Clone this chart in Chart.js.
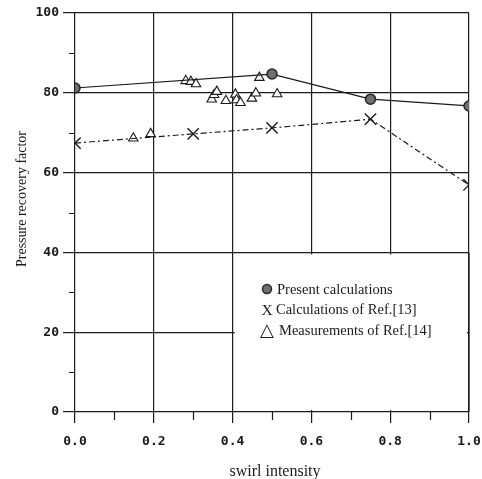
<!DOCTYPE html>
<html>
<head>
<meta charset="utf-8">
<script src="https://cdn.jsdelivr.net/npm/chart.js@4.4.1/dist/chart.umd.min.js"></script>
<style>
  html, body { margin: 0; padding: 0; background: #fff; }
  #wrap { width: 482px; height: 479px; }
</style>
</head>
<body>
<div id="wrap"><canvas id="recovery"></canvas></div>
<script>
// present calculations (filled circles, solid line)
var swirlPresent = [0.0, 0.5, 0.75, 1.0];
var recoveryPresent = [81.2, 84.7, 78.4, 76.7];

// calculations of Ref.[13] (crosses, dash-dot line)
var swirlRef13 = [0.0, 0.3, 0.5, 0.75, 1.0];
var recoveryRef13 = [67.4, 69.7, 71.2, 73.4, 56.9];

// measurements of Ref.[14] (open triangles)
var swirlRef14 = [0.148, 0.192, 0.281, 0.294, 0.307, 0.347, 0.353, 0.36, 0.383, 0.407, 0.41, 0.42, 0.449, 0.459, 0.468, 0.513];
var recoveryRef14 = [68.6, 69.7, 83.0, 82.8, 82.2, 78.4, 79.5, 80.3, 78.0, 79.6, 78.2, 77.5, 78.6, 79.9, 83.8, 79.7];

var xTicks = [0, 0.2, 0.4, 0.6, 0.8, 1.0];
var yTicks = [0, 20, 40, 60, 80, 100];
var xMinor = [0.1, 0.3, 0.5, 0.7, 0.9];
var yMinor = [10, 30, 50, 70, 90];

var legendLabels = ['Present calculations', 'Calculations of Ref.[13]', 'Measurements of Ref.[14]'];
var legendGlyphs = [null, 'X', '\u25B3'];

function toPoints(xs, ys) {
    var pts = [];
    for (var i = 0; i < xs.length; i++) {
        pts.push({ x: xs[i], y: ys[i] });
    }
    return pts;
}

var serif = '"Liberation Serif", "DejaVu Serif", serif';
var mono = '"DejaVu Sans Mono", "Liberation Mono", monospace';
var ink = '#1a1a1a';

function crisp(px) {
    return Math.round(px) + 0.5;
}

// white box behind the legend, minor ticks, axis titles and the legend itself
var paperPlugin = {
    id: 'paper',
    beforeDatasetsDraw: function (chart) {
        var ctx = chart.ctx,
            xs = chart.scales.x,
            ys = chart.scales.y;

        var l = xs.getPixelForValue(0.4), r = xs.getPixelForValue(1.0);
        var t = ys.getPixelForValue(40), b = ys.getPixelForValue(0);
        ctx.save();
        ctx.fillStyle = '#fff';
        ctx.fillRect(l + 2, t + 2, r - l - 4, b - t - 4);

        ctx.strokeStyle = ink;
        ctx.lineWidth = 1.2;
        ctx.beginPath();
        xMinor.forEach(function (v) {
            var px = crisp(xs.getPixelForValue(v));
            ctx.moveTo(px, b);
            ctx.lineTo(px, b + 8);
        });
        var left = xs.getPixelForValue(0);
        yMinor.forEach(function (v) {
            var py = crisp(ys.getPixelForValue(v));
            ctx.moveTo(left - 6, py);
            ctx.lineTo(left, py);
        });
        ctx.stroke();
        ctx.restore();
    },
    afterDraw: function (chart) {
        var ctx = chart.ctx,
            area = chart.chartArea,
            ys = chart.scales.y;

        // right frame down the side of the legend box
        ctx.save();
        ctx.strokeStyle = ink;
        ctx.lineWidth = 1.2;
        ctx.beginPath();
        ctx.moveTo(area.right, ys.getPixelForValue(40));
        ctx.lineTo(area.right, ys.getPixelForValue(0));
        ctx.stroke();
        ctx.restore();

        ctx.save();
        ctx.fillStyle = ink;
        ctx.textAlign = 'center';
        ctx.textBaseline = 'middle';
        ctx.font = '16px ' + serif;
        ctx.fillText('swirl intensity', (area.left + area.right) / 2 + 3, 472);

        ctx.font = '14px ' + serif;
        ctx.translate(22, 199);
        ctx.rotate(-Math.PI / 2);
        ctx.fillText('Pressure recovery factor', 0, 0);
        ctx.restore();

        // legend
        var lx = 267, ly = 289, gap = 20.5;
        ctx.save();
        ctx.textBaseline = 'middle';
        chart.data.datasets.forEach(function (ds, i) {
            var y = ly + i * gap;
            ctx.font = '14.5px ' + serif;
            if (legendGlyphs[i] === null) {
                ctx.fillStyle = ds.pointBackgroundColor;
                ctx.strokeStyle = ds.pointBorderColor;
                ctx.lineWidth = ds.pointBorderWidth;
                Chart.helpers.drawPoint(ctx, {
                    pointStyle: ds.pointStyle,
                    radius: ds.pointRadius - 0.5,
                    borderWidth: ds.pointBorderWidth
                }, lx, y);
                ctx.fillStyle = ink;
                ctx.textAlign = 'left';
                ctx.fillText(legendLabels[i], lx + 10, y + 1);
            } else {
                ctx.fillStyle = ink;
                ctx.textAlign = 'center';
                ctx.font = (i === 2 ? '18px ' : '15.5px ') + serif;
                ctx.fillText(legendGlyphs[i], lx, y + 1);
                ctx.font = '14.5px ' + serif;
                ctx.textAlign = 'left';
                ctx.fillText(legendLabels[i], lx + (i === 1 ? 9 : 12), y + 1);
            }
        });
        ctx.restore();
    }
};

var ctx = document.getElementById('recovery').getContext('2d');

var chart = new Chart(ctx, {
    type: 'scatter',
    data: {
        datasets: [
            {
                label: legendLabels[0],
                data: toPoints(swirlPresent, recoveryPresent),
                showLine: true,
                borderColor: ink,
                borderWidth: 1.2,
                pointStyle: 'circle',
                pointRadius: 5,
                pointBackgroundColor: '#6f6f6f',
                pointBorderColor: '#262626',
                pointBorderWidth: 1.5
            },
            {
                label: legendLabels[1],
                data: toPoints(swirlRef13, recoveryRef13),
                showLine: true,
                borderColor: ink,
                borderWidth: 1.2,
                borderDash: [6, 3, 2, 3],
                pointStyle: 'crossRot',
                pointRadius: 8,
                pointBackgroundColor: ink,
                pointBorderColor: ink,
                pointBorderWidth: 1.4
            },
            {
                label: legendLabels[2],
                data: toPoints(swirlRef14, recoveryRef14),
                showLine: false,
                pointStyle: 'triangle',
                pointRadius: 5.5,
                pointBackgroundColor: '#fff',
                pointBorderColor: ink,
                pointBorderWidth: 1.1
            }
        ]
    },
    options: {
        responsive: true,
        maintainAspectRatio: false,
        animation: false,
        layout: { padding: { left: 0, right: 13, top: 13, bottom: 0 } },
        plugins: {
            legend: { display: false },
            tooltip: { enabled: false }
        },
        scales: {
            x: {
                type: 'linear',
                min: 0,
                max: 1,
                afterFit: function (scale) {
                    scale.height = 67;
                    // let the "1.0" label hang over the padding
                    scale.paddingLeft = 0;
                    scale.paddingRight = 0;
                },
                afterBuildTicks: function (scale) {
                    scale.ticks = xTicks.map(function (v) { return { value: v }; });
                },
                grid: {
                    color: ink,
                    lineWidth: 1.2,
                    tickLength: 11,
                    tickColor: ink
                },
                border: { display: false },
                ticks: {
                    padding: 11,
                    color: ink,
                    maxRotation: 0,
                    font: { family: mono, size: 13, weight: 'bold' },
                    callback: function (v) { return v.toFixed(1); }
                }
            },
            y: {
                type: 'linear',
                min: 0,
                max: 100,
                afterFit: function (scale) {
                    scale.width = 75;
                    scale.paddingTop = 0;
                    scale.paddingBottom = 0;
                },
                afterBuildTicks: function (scale) {
                    scale.ticks = yTicks.map(function (v) { return { value: v }; });
                },
                grid: {
                    color: ink,
                    lineWidth: 1.2,
                    tickLength: 12,
                    tickColor: ink
                },
                border: { display: false },
                ticks: {
                    padding: 4,
                    color: ink,
                    font: { family: mono, size: 13, weight: 'bold' }
                }
            }
        }
    },
    plugins: [paperPlugin]
});
</script>
</body>
</html>
